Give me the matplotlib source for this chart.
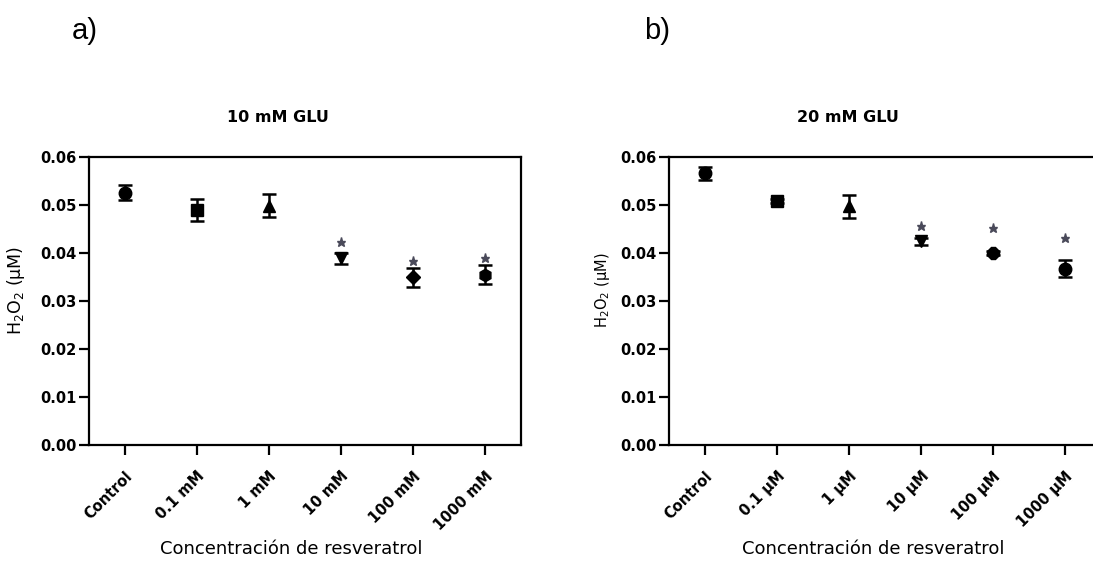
import matplotlib
matplotlib.use("Agg")
import matplotlib.pyplot as plt
import numpy as np

plt.rcParams['font.family'] = ['DejaVu Sans']

# ---- data ----
groups = ["Control", "0.1", "1", "10", "100", "1000"]
labels_a = ["Control", "0.1 mM", "1 mM", "10 mM", "100 mM", "1000 mM"]
labels_b = ["Control", "0.1 µM", "1 µM", "10 µM", "100 µM", "1000 µM"]

mean_a = [0.0526, 0.0490, 0.0498, 0.0389, 0.0349, 0.0355]
sem_a = [0.0016, 0.0023, 0.0024, 0.0012, 0.0019, 0.0019]
star_a = [None, None, None, 0.0422, 0.0384, 0.0389]

mean_b = [0.0566, 0.0508, 0.0497, 0.0424, 0.0400, 0.0367]
sem_b = [0.0013, 0.0004, 0.0024, 0.0007, 0.0005, 0.0018]
star_b = [None, None, None, 0.0456, 0.0453, 0.0432]

markers_a = ['o', 's', '^', 'v', 'D', 'h']
markers_b = ['o', 's', '^', 'v', '8', 'o']

yticks = [0.00, 0.01, 0.02, 0.03, 0.04, 0.05, 0.06]

W, H = 1093, 565
fig = plt.figure(figsize=(W / 100, H / 100), dpi=100)


def make_panel(left_px, means, sems, stars, markers, labels, title, title_x, xlab_x, ylab_x, ylab_size):
    ax = fig.add_axes([left_px / W, 1 - 445 / H, 432 / W, 288 / H])
    x = np.arange(len(means))
    for xi, m, s, mk in zip(x, means, sems, markers):
        ax.errorbar(xi, m, yerr=s, fmt=mk, color='black', ms=9 if mk not in ('D',) else 7.5,
                    elinewidth=1.8, capsize=4.8, capthick=1.8, zorder=3)
    for xi, sy in zip(x, stars):
        if sy is not None:
            ax.plot(xi, sy, marker='*', color='#4a4a5a', ms=6.5, ls='none', zorder=3)
    ax.set_xlim(-0.5, len(means) - 0.5)
    ax.set_ylim(0, 0.06)
    ax.set_yticks(yticks)
    ax.set_yticklabels([f"{v:.2f}" for v in yticks], fontsize=10.5, fontweight='bold')
    ax.set_xticks(x)
    ax.set_xticklabels(labels, rotation=45, ha='right', rotation_mode='anchor',
                       fontsize=10.5, fontweight='bold')
    for sp in ax.spines.values():
        sp.set_linewidth(1.6)
    ax.tick_params(axis='both', direction='out', length=7, width=1.6, pad=2)
    ax.tick_params(axis='x', pad=10)
    fig.text(title_x / W, 1 - 117 / H, title, ha='center', va='center',
             fontsize=11.5, fontweight='bold')
    fig.text(xlab_x / W, 1 - 549 / H, "Concentración de resveratrol", ha='center',
             va='center', fontsize=13)
    fig.text(ylab_x / W, 1 - 290 / H, "H$_2$O$_2$ (µM)", ha='center', va='center',
             rotation=90, fontsize=ylab_size)
    return ax


make_panel(89, mean_a, sem_a, star_a, markers_a, labels_a, "10 mM GLU", 278, 291, 16, 12.5)
make_panel(669, mean_b, sem_b, star_b, markers_b, labels_b, "20 mM GLU", 848, 873, 603, 10.5)

fig.text(85 / W, 1 - 31 / H, "a)", ha='center', va='center', fontsize=21,
         family='Liberation Sans')
fig.text(657 / W, 1 - 31 / H, "b)", ha='center', va='center', fontsize=21,
         family='Liberation Sans')

fig.savefig("out.png", dpi=100)
